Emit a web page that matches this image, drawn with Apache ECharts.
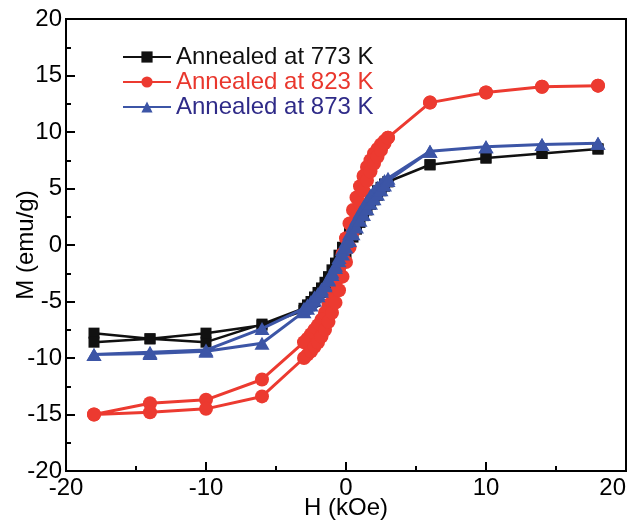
<!DOCTYPE html>
<html>
<head>
<meta charset="utf-8">
<script src="https://cdn.jsdelivr.net/npm/echarts@6/dist/echarts.min.js"></script>
<style>
  html, body { margin: 0; padding: 0; background: #fff; }
  #chart { width: 631px; height: 525px; }
</style>
</head>
<body>
<div id="chart"></div>
<script>
// Field sweeps (kOe): down from +18 to -18, then back up to +18
const hDown = [18, 14, 10, 6, 3, 2.75, 2.5, 2.25, 2, 1.75, 1.5, 1.25, 1, 0.75, 0.5, 0.25, 0,
  -0.25, -0.5, -0.75, -1, -1.25, -1.5, -1.75, -2, -2.25, -2.5, -2.75, -3, -6, -10, -14, -18];
const hUp = [-18, -14, -10, -6, -3, -2.75, -2.5, -2.25, -2, -1.75, -1.5, -1.25, -1, -0.75, -0.5, -0.25, 0,
  0.25, 0.5, 0.75, 1, 1.25, 1.5, 1.75, 2, 2.25, 2.5, 2.75, 3, 6, 10, 14, 18];

// Magnetization (emu/g), sample annealed at 773 K
const mDown773 = [8.5, 8.1, 7.7, 7.1, 5.6, 5.4, 5.1, 4.8, 4.4, 4.0, 3.6, 3.2, 2.8, 2.3, 1.8, 1.2, 0.5,
  -0.2, -0.9, -1.6, -2.2, -2.8, -3.3, -3.8, -4.2, -4.6, -5.0, -5.3, -5.6, -7.0, -8.6, -8.3, -7.8];
const mUp773 = [-8.6, -8.3, -7.8, -7.1, -5.8, -5.6, -5.3, -5.0, -4.6, -4.2, -3.8, -3.4, -3.0, -2.5, -2.0, -1.4, -0.7,
  0.0, 0.7, 1.4, 2.0, 2.6, 3.1, 3.6, 4.0, 4.4, 4.8, 5.2, 5.6, 7.1, 7.7, 8.1, 8.5];

// Sample annealed at 823 K
const mDown823 = [14.1, 14.0, 13.5, 12.6, 9.5, 9.2, 8.9, 8.5, 8.1, 7.5, 6.9, 6.1, 5.2, 4.2, 3.1, 1.9, 0.6,
  -0.8, -2.1, -3.3, -4.4, -5.3, -6.0, -6.6, -7.1, -7.5, -7.9, -8.3, -8.6, -11.9, -13.7, -14.0, -15.0];
const mUp823 = [-15.0, -14.8, -14.5, -13.4, -10.0, -9.7, -9.4, -9.0, -8.6, -8.1, -7.5, -6.8, -6.0, -5.1, -4.0, -2.8, -1.5,
  -0.2, 1.2, 2.5, 3.7, 4.8, 5.7, 6.5, 7.2, 7.8, 8.4, 9.0, 9.5, 12.6, 13.5, 14.0, 14.1];

// Sample annealed at 873 K
const mDown873 = [9.0, 8.9, 8.7, 8.3, 5.9, 5.7, 5.4, 5.1, 4.8, 4.4, 3.9, 3.4, 2.9, 2.3, 1.7, 1.0, 0.3,
  -0.4, -1.1, -1.8, -2.4, -3.0, -3.5, -3.9, -4.3, -4.6, -5.0, -5.3, -5.6, -7.4, -9.3, -9.5, -9.7];
const mUp873 = [-9.7, -9.6, -9.4, -8.7, -5.9, -5.6, -5.3, -4.9, -4.5, -4.1, -3.6, -3.1, -2.6, -2.0, -1.4, -0.8, -0.2,
  0.4, 1.0, 1.6, 2.2, 2.7, 3.2, 3.7, 4.1, 4.5, 4.9, 5.3, 5.7, 8.3, 8.7, 8.9, 9.0];

const seriesNames = ['Annealed at 773 K', 'Annealed at 823 K', 'Annealed at 873 K'];
const lineColors = ['#111111', '#ec3a30', '#3c55a6'];
const legendTextColors = ['#111111', '#e9372d', '#2f2b88'];

function loop(down, up) {
  return hDown.map((h, i) => [h, down[i]]).concat(hUp.map((h, i) => [h, up[i]]));
}

const FONT = 'Liberation Sans, Arial, sans-serif';
const chart = echarts.init(document.getElementById('chart'), null, { renderer: 'canvas' });

const axisCommon = {
  type: 'value',
  nameLocation: 'middle',
  nameMoveOverlap: false,
  nameTextStyle: { fontFamily: FONT, fontSize: 24, color: '#000' },
  axisLine: { show: true, onZero: false, lineStyle: { color: '#000', width: 2 } },
  axisTick: { show: true, inside: true, length: 9, lineStyle: { color: '#000', width: 2 } },
  minorTick: { show: true, splitNumber: 2, length: 5, lineStyle: { color: '#000', width: 2 } },
  splitLine: { show: false },
  axisLabel: { fontFamily: FONT, fontSize: 24, color: '#000', showMinLabel: true, showMaxLabel: true, hideOverlap: false }
};

chart.setOption({
  animation: false,
  backgroundColor: '#fff',
  grid: {
    left: 66, right: 5, top: 19, bottom: 54,
    containLabel: false, outerBoundsMode: 'none',
    show: true, borderColor: '#000', borderWidth: 2
  },
  legend: {
    orient: 'vertical',
    left: 122, top: 45,
    padding: 0,
    itemWidth: 48, itemHeight: 14, itemGap: 1,
    textStyle: { fontFamily: FONT, fontSize: 24, lineHeight: 24 },
    data: seriesNames.map((n, i) => ({ name: n, textStyle: { color: legendTextColors[i] } }))
  },
  xAxis: Object.assign({}, axisCommon, {
    min: -20, max: 20, interval: 10,
    name: 'H (kOe)', nameGap: 25,
    axisLabel: Object.assign({}, axisCommon.axisLabel, { margin: 5, alignMaxLabel: 'right' })
  }),
  yAxis: Object.assign({}, axisCommon, {
    min: -20, max: 20, interval: 5,
    name: 'M (emu/g)', nameGap: 28, nameRotate: 90,
    axisLabel: Object.assign({}, axisCommon.axisLabel, { margin: 4 })
  }),
  series: [
    {
      name: seriesNames[0], type: 'line', data: loop(mDown773, mUp773),
      symbol: 'rect', symbolSize: 11,
      itemStyle: { color: lineColors[0] },
      lineStyle: { color: lineColors[0], width: 2.5 }, z: 2
    },
    {
      name: seriesNames[1], type: 'line', data: loop(mDown823, mUp823),
      symbol: 'circle', symbolSize: 14,
      itemStyle: { color: lineColors[1] },
      lineStyle: { color: lineColors[1], width: 3 }, z: 3
    },
    {
      name: seriesNames[2], type: 'line', data: loop(mDown873, mUp873),
      symbol: 'triangle', symbolSize: [15, 13],
      itemStyle: { color: lineColors[2] },
      lineStyle: { color: lineColors[2], width: 3 }, z: 4
    }
  ]
});
</script>
</body>
</html>
